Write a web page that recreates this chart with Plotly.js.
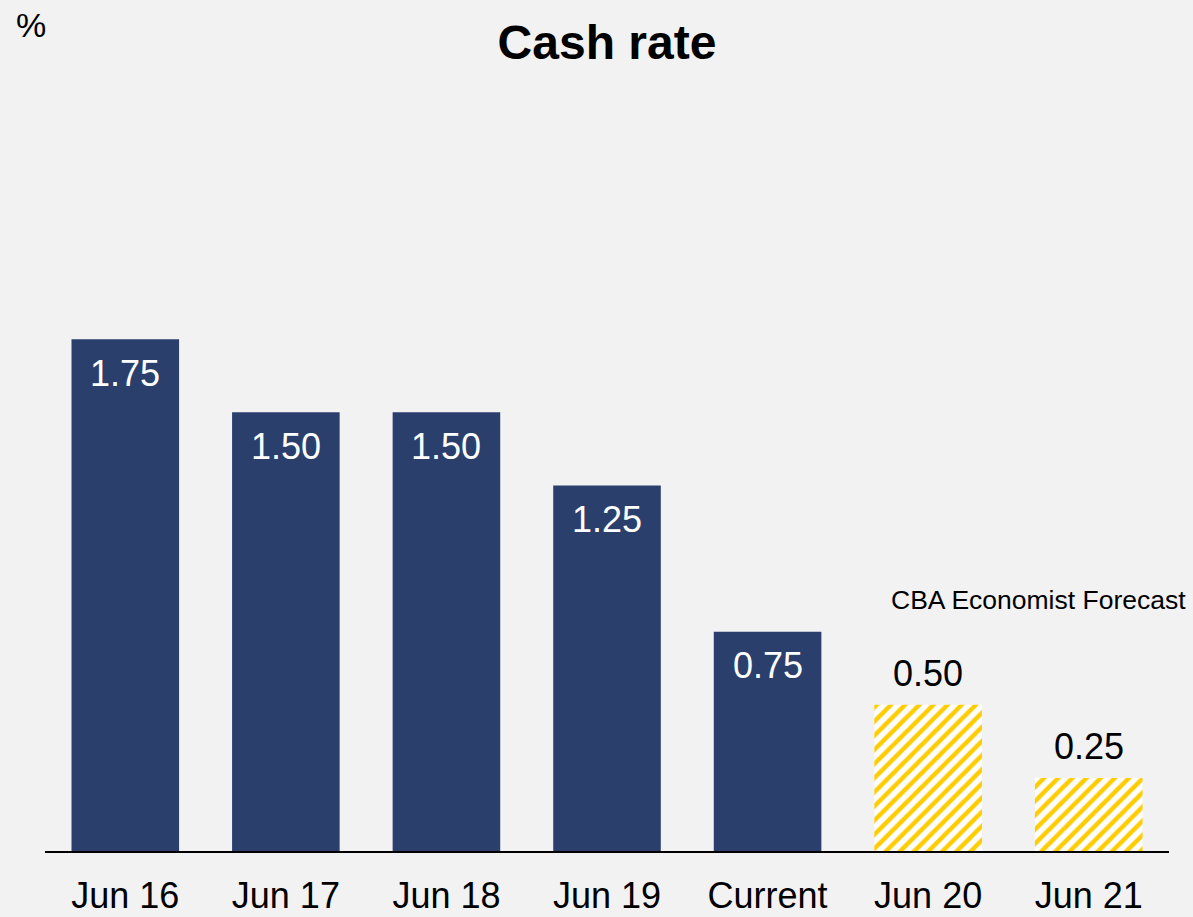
<!DOCTYPE html>
<html>
<head>
<meta charset="utf-8">
<script src="https://cdn.plot.ly/plotly-3.0.1.min.js"></script>
<style>
  html, body { margin: 0; padding: 0; background: #F2F2F2; }
  #chart { width: 1193px; height: 917px; }
</style>
</head>
<body>
<div id="chart"></div>
<script>
const actualCategories = ["Jun 16", "Jun 17", "Jun 18", "Jun 19", "Current"];
const actualValues = [1.75, 1.50, 1.50, 1.25, 0.75];
const forecastCategories = ["Jun 20", "Jun 21"];
const forecastValues = [0.50, 0.25];
const allCategories = actualCategories.concat(forecastCategories);

const FONT = "Liberation Sans, Arial, sans-serif";
const NAVY = "#2B3F6D";
const GOLD = "#FFCC00";

const traces = [
  {
    type: "bar",
    x: actualCategories,
    y: actualValues,
    marker: { color: NAVY, line: { width: 0 } },
    hoverinfo: "skip",
    showlegend: false
  },
  {
    type: "bar",
    x: forecastCategories,
    y: forecastValues,
    marker: {
      color: "#FFFFFF",
      line: { width: 0 },
      pattern: { shape: "/", fgcolor: GOLD, bgcolor: "#FFFFFF", size: 10, solidity: 0.45, fillmode: "replace" }
    },
    hoverinfo: "skip",
    showlegend: false
  }
];

const annotations = [];
actualCategories.forEach((c, i) => {
  annotations.push({
    x: c, y: actualValues[i], xref: "x", yref: "y",
    text: actualValues[i].toFixed(2), showarrow: false,
    yanchor: "middle", yshift: -34,
    font: { family: FONT, size: 36, color: "#FFFFFF" }
  });
});
forecastCategories.forEach((c, i) => {
  annotations.push({
    x: c, y: forecastValues[i], xref: "x", yref: "y",
    text: forecastValues[i].toFixed(2), showarrow: false,
    yanchor: "middle", yshift: 31,
    font: { family: FONT, size: 36, color: "#000000" }
  });
});
// plot area: left 45, width 1124, top 80, height 771
annotations.push({
  x: (889 - 45) / 1124, y: (851 - 600) / 771, xref: "paper", yref: "paper",
  text: "CBA Economist Forecast", showarrow: false,
  xanchor: "left", yanchor: "middle",
  font: { family: FONT, size: 26.5, color: "#000000" }
});
annotations.push({
  x: (14 - 45) / 1124, y: (851 - 25) / 771, xref: "paper", yref: "paper",
  text: "%", showarrow: false, xanchor: "left", yanchor: "middle",
  font: { family: FONT, size: 34, color: "#000000" }
});

const layout = {
  width: 1193, height: 917,
  paper_bgcolor: "#F2F2F2", plot_bgcolor: "#F2F2F2",
  margin: { l: 45, r: 24, t: 80, b: 66, pad: 0 },
  barmode: "overlay",
  bargap: 0.33,
  title: {
    text: "<b>Cash rate</b>",
    x: 0.5, xref: "paper", xanchor: "center",
    y: 1 - 42 / 917, yref: "container", yanchor: "middle",
    font: { family: FONT, size: 48, color: "#000000" }
  },
  xaxis: {
    type: "category",
    categoryorder: "array", categoryarray: allCategories,
    showline: true, linecolor: "#000000", linewidth: 2,
    showgrid: false, zeroline: false, ticks: "",
    ticklabelstandoff: 12,
    tickfont: { family: FONT, size: 36, color: "#000000" }
  },
  yaxis: {
    range: [0, 2.636],
    visible: false, showgrid: false, zeroline: false
  },
  annotations: annotations
};

Plotly.newPlot("chart", traces, layout, { staticPlot: true, displayModeBar: false });
</script>
</body>
</html>
